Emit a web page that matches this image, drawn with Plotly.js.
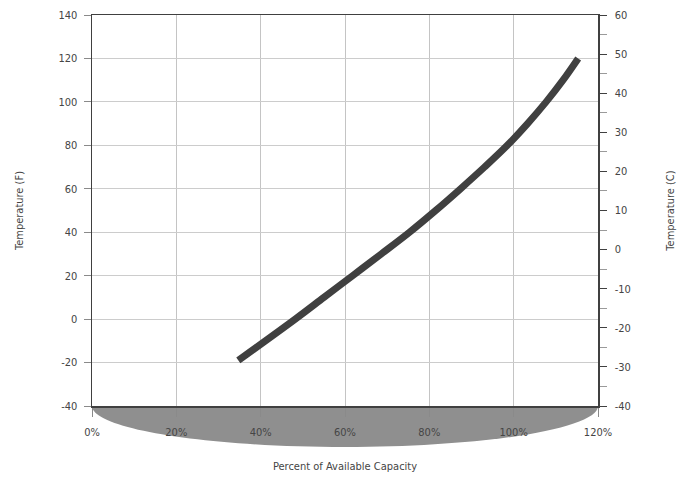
<!DOCTYPE html>
<html>
<head>
<meta charset="utf-8">
<script src="https://cdn.plot.ly/plotly-3.0.1.min.js"></script>
<style>html,body{margin:0;padding:0;background:#fff;}#chart{width:692px;height:477px;}</style>
</head>
<body>
<div id="chart"></div>
<script>
// Capacity (% of available) vs temperature (F)
var capacityPct = [34.7, 48.2, 55.0, 61.8, 68.6, 75.3, 81.5, 87.4, 93.1, 98.5, 103.3, 107.7, 111.7, 115.3];
var temperatureF = [-19, 0, 10, 20, 30, 40, 50, 60, 70, 80, 90, 100, 110, 120];

var xTickVals = [0, 20, 40, 60, 80, 100, 120];
var xTickText = ['0%', '20%', '40%', '60%', '80%', '100%', '120%'];
var yTickValsF = [-40, -20, 0, 20, 40, 60, 80, 100, 120, 140];
var yTickTextF = ['-40', '-20', '0', '20', '40', '60', '80', '100', '120', '140'];
var yTickValsC = [-40, -30, -20, -10, 0, 10, 20, 30, 40, 50, 60];
var yTickTextC = ['-40', '-30', '-20', '-10', '0', '10', '20', '30', '40', '50', '60'];
var xTitle = 'Percent of Available Capacity';
var yTitleF = 'Temperature (F)';
var yTitleC = 'Temperature (C)';

var FONT = '"DejaVu Sans Condensed", "Liberation Sans", sans-serif';
var TXT = '#454545';

var traces = [
  {
    x: capacityPct,
    y: temperatureF,
    type: 'scatter',
    mode: 'lines',
    line: {color: '#404040', width: 7, shape: 'spline', smoothing: 1},
    hoverinfo: 'skip',
    showlegend: false
  },
  {
    x: [0],
    y: [0],
    yaxis: 'y2',
    type: 'scatter',
    mode: 'markers',
    marker: {opacity: 0},
    hoverinfo: 'skip',
    showlegend: false
  }
];

var k = 0.5523;
var d = 0.105;
var ellipsePath = 'M 0,0 C 0,' + (-k * d) + ' ' + (0.5 - k * 0.5) + ',' + (-d) + ' 0.5,' + (-d) +
  ' C ' + (0.5 + k * 0.5) + ',' + (-d) + ' 1,' + (-k * d) + ' 1,0 Z';

var layout = {
  width: 692,
  height: 477,
  margin: {l: 92, r: 94, t: 15, b: 71},
  paper_bgcolor: '#ffffff',
  plot_bgcolor: '#ffffff',
  font: {family: FONT, size: 11, color: TXT},
  showlegend: false,
  xaxis: {
    range: [0, 120],
    tickvals: xTickVals,
    ticktext: xTickText,
    showgrid: true,
    gridcolor: '#c4c4c4',
    gridwidth: 1,
    zeroline: false,
    showline: true,
    linecolor: '#404040',
    linewidth: 1.5,
    mirror: true,
    ticks: 'outside',
    ticklen: 9,
    tickcolor: '#8a8a8a',
    ticklabelstandoff: 6,
    tickfont: {family: FONT, size: 11, color: TXT},
    title: {text: xTitle, font: {family: FONT, size: 11, color: TXT}, standoff: 24}
  },
  yaxis: {
    range: [-40, 140],
    tickvals: yTickValsF,
    ticktext: yTickTextF,
    showgrid: true,
    gridcolor: '#cccccc',
    gridwidth: 1,
    zeroline: false,
    showline: true,
    linecolor: '#404040',
    linewidth: 1.5,
    ticks: 'outside',
    ticklen: 7,
    tickcolor: '#8a8a8a',
    ticklabelstandoff: 4,
    tickfont: {family: FONT, size: 11, color: TXT},
    title: {text: yTitleF, font: {family: FONT, size: 11, color: TXT}, standoff: 32}
  },
  yaxis2: {
    range: [-40, 60],
    tickvals: yTickValsC,
    ticktext: yTickTextC,
    overlaying: 'y',
    side: 'right',
    showgrid: false,
    zeroline: false,
    showline: true,
    linecolor: '#404040',
    linewidth: 1.5,
    ticks: 'outside',
    ticklen: 7,
    tickcolor: '#404040',
    minor: {dtick: 5, tick0: -40, ticks: 'outside', ticklen: 7, tickcolor: '#9a9a9a'},
    ticklabelstandoff: 6,
    tickfont: {family: FONT, size: 11, color: TXT},
    title: {text: yTitleC, font: {family: FONT, size: 11, color: TXT}, standoff: 36}
  },
  shapes: [
    {
      type: 'path',
      xref: 'paper',
      yref: 'paper',
      path: ellipsePath,
      fillcolor: '#8f8f8f',
      line: {width: 0},
      layer: 'below'
    }
  ]
};

Plotly.newPlot('chart', traces, layout, {displayModeBar: false, staticPlot: true});
</script>
</body>
</html>
